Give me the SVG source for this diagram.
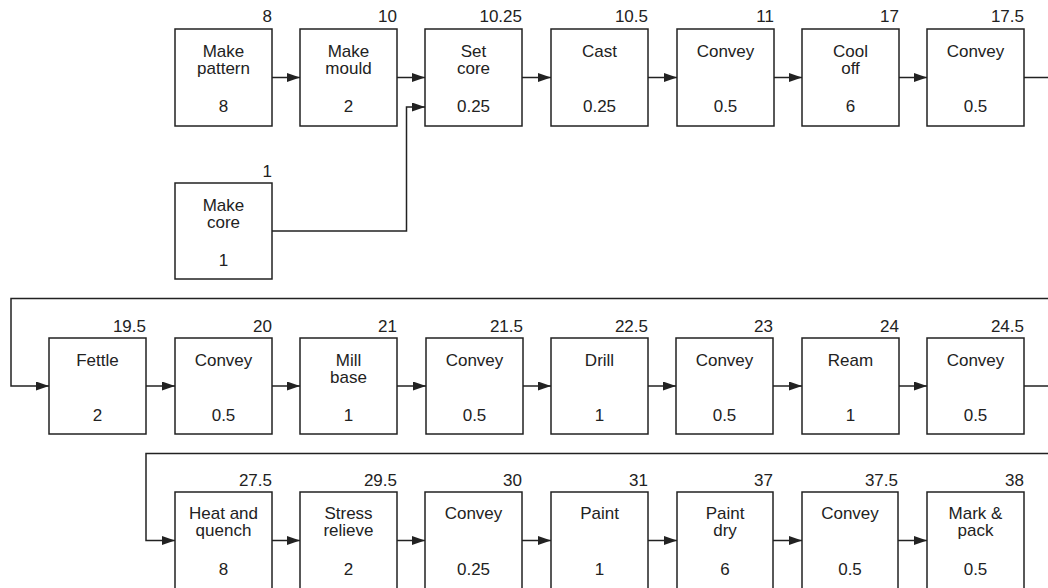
<svg xmlns="http://www.w3.org/2000/svg" width="1048" height="588" viewBox="0 0 1048 588">
<defs>
<marker id="ah" markerUnits="userSpaceOnUse" markerWidth="14" markerHeight="10" refX="13" refY="4.5" orient="auto">
<path d="M0,0 L13,4.5 L0,9 z" fill="#222"/>
</marker>
<style>
.b{fill:#fff;stroke:#222;stroke-width:1.5}
.l{font-family:"Liberation Sans",Arial,sans-serif;font-size:17px;fill:#222;text-anchor:middle}
.n{font-family:"Liberation Sans",Arial,sans-serif;font-size:17px;fill:#222;text-anchor:end}
.c{fill:none;stroke:#222;stroke-width:1.5}
</style>
</defs>
<rect width="1048" height="588" fill="#fff"/>
<g id="connectors">
<path class="c" d="M272,77.5 H300" marker-end="url(#ah)"/>
<path class="c" d="M397,77.5 H425" marker-end="url(#ah)"/>
<path class="c" d="M272,231 H406.5 V107 H425" marker-end="url(#ah)"/>
<path class="c" d="M522,77.5 H551" marker-end="url(#ah)"/>
<path class="c" d="M648,77.5 H677" marker-end="url(#ah)"/>
<path class="c" d="M774,77.5 H802" marker-end="url(#ah)"/>
<path class="c" d="M899,77.5 H927" marker-end="url(#ah)"/>
<path class="c" d="M1024,77.5 H1051 V298.5 H11 V386 H49" marker-end="url(#ah)"/>
<path class="c" d="M146,386 H175" marker-end="url(#ah)"/>
<path class="c" d="M272,386 H300" marker-end="url(#ah)"/>
<path class="c" d="M397,386 H426" marker-end="url(#ah)"/>
<path class="c" d="M523,386 H551" marker-end="url(#ah)"/>
<path class="c" d="M648,386 H676" marker-end="url(#ah)"/>
<path class="c" d="M773,386 H802" marker-end="url(#ah)"/>
<path class="c" d="M899,386 H927" marker-end="url(#ah)"/>
<path class="c" d="M1024,386 H1051 V453.5 H146 V540.5 H175" marker-end="url(#ah)"/>
<path class="c" d="M272,540.5 H300" marker-end="url(#ah)"/>
<path class="c" d="M397,540.5 H425" marker-end="url(#ah)"/>
<path class="c" d="M522,540.5 H551" marker-end="url(#ah)"/>
<path class="c" d="M648,540.5 H677" marker-end="url(#ah)"/>
<path class="c" d="M773,540.5 H802" marker-end="url(#ah)"/>
<path class="c" d="M898,540.5 H927" marker-end="url(#ah)"/>
</g>
<g id="make-pattern"><rect class="b" x="175" y="29" width="97" height="97"/><text class="n" x="272" y="22">8</text><text class="l" x="223.5" y="57">Make</text><text class="l" x="223.5" y="74">pattern</text><text class="l" x="223.5" y="112">8</text></g>
<g id="make-mould"><rect class="b" x="300" y="29" width="97" height="97"/><text class="n" x="397" y="22">10</text><text class="l" x="348.5" y="57">Make</text><text class="l" x="348.5" y="74">mould</text><text class="l" x="348.5" y="112">2</text></g>
<g id="set-core"><rect class="b" x="425" y="29" width="97" height="97"/><text class="n" x="522" y="22">10.25</text><text class="l" x="473.5" y="57">Set</text><text class="l" x="473.5" y="74">core</text><text class="l" x="473.5" y="112">0.25</text></g>
<g id="cast"><rect class="b" x="551" y="29" width="97" height="97"/><text class="n" x="648" y="22">10.5</text><text class="l" x="599.5" y="57">Cast</text><text class="l" x="599.5" y="112">0.25</text></g>
<g id="convey-1"><rect class="b" x="677" y="29" width="97" height="97"/><text class="n" x="774" y="22">11</text><text class="l" x="725.5" y="57">Convey</text><text class="l" x="725.5" y="112">0.5</text></g>
<g id="cool-off"><rect class="b" x="802" y="29" width="97" height="97"/><text class="n" x="899" y="22">17</text><text class="l" x="850.5" y="57">Cool</text><text class="l" x="850.5" y="74">off</text><text class="l" x="850.5" y="112">6</text></g>
<g id="convey-2"><rect class="b" x="927" y="29" width="97" height="97"/><text class="n" x="1024" y="22">17.5</text><text class="l" x="975.5" y="57">Convey</text><text class="l" x="975.5" y="112">0.5</text></g>
<g id="make-core"><rect class="b" x="175" y="183" width="97" height="96"/><text class="n" x="272" y="177">1</text><text class="l" x="223.5" y="211">Make</text><text class="l" x="223.5" y="228">core</text><text class="l" x="223.5" y="266">1</text></g>
<g id="fettle"><rect class="b" x="49" y="338" width="97" height="96"/><text class="n" x="146" y="332">19.5</text><text class="l" x="97.5" y="366">Fettle</text><text class="l" x="97.5" y="421">2</text></g>
<g id="convey-3"><rect class="b" x="175" y="338" width="97" height="96"/><text class="n" x="272" y="332">20</text><text class="l" x="223.5" y="366">Convey</text><text class="l" x="223.5" y="421">0.5</text></g>
<g id="mill-base"><rect class="b" x="300" y="338" width="97" height="96"/><text class="n" x="397" y="332">21</text><text class="l" x="348.5" y="366">Mill</text><text class="l" x="348.5" y="383">base</text><text class="l" x="348.5" y="421">1</text></g>
<g id="convey-4"><rect class="b" x="426" y="338" width="97" height="96"/><text class="n" x="523" y="332">21.5</text><text class="l" x="474.5" y="366">Convey</text><text class="l" x="474.5" y="421">0.5</text></g>
<g id="drill"><rect class="b" x="551" y="338" width="97" height="96"/><text class="n" x="648" y="332">22.5</text><text class="l" x="599.5" y="366">Drill</text><text class="l" x="599.5" y="421">1</text></g>
<g id="convey-5"><rect class="b" x="676" y="338" width="97" height="96"/><text class="n" x="773" y="332">23</text><text class="l" x="724.5" y="366">Convey</text><text class="l" x="724.5" y="421">0.5</text></g>
<g id="ream"><rect class="b" x="802" y="338" width="97" height="96"/><text class="n" x="899" y="332">24</text><text class="l" x="850.5" y="366">Ream</text><text class="l" x="850.5" y="421">1</text></g>
<g id="convey-6"><rect class="b" x="927" y="338" width="97" height="96"/><text class="n" x="1024" y="332">24.5</text><text class="l" x="975.5" y="366">Convey</text><text class="l" x="975.5" y="421">0.5</text></g>
<g id="heat-quench"><rect class="b" x="175" y="492" width="97" height="97"/><text class="n" x="272" y="486">27.5</text><text class="l" x="223.5" y="519">Heat and</text><text class="l" x="223.5" y="536">quench</text><text class="l" x="223.5" y="575">8</text></g>
<g id="stress-relieve"><rect class="b" x="300" y="492" width="97" height="97"/><text class="n" x="397" y="486">29.5</text><text class="l" x="348.5" y="519">Stress</text><text class="l" x="348.5" y="536">relieve</text><text class="l" x="348.5" y="575">2</text></g>
<g id="convey-7"><rect class="b" x="425" y="492" width="97" height="97"/><text class="n" x="522" y="486">30</text><text class="l" x="473.5" y="519">Convey</text><text class="l" x="473.5" y="575">0.25</text></g>
<g id="paint"><rect class="b" x="551" y="492" width="97" height="97"/><text class="n" x="648" y="486">31</text><text class="l" x="599.5" y="519">Paint</text><text class="l" x="599.5" y="575">1</text></g>
<g id="paint-dry"><rect class="b" x="677" y="492" width="96" height="97"/><text class="n" x="773" y="486">37</text><text class="l" x="725" y="519">Paint</text><text class="l" x="725" y="536">dry</text><text class="l" x="725" y="575">6</text></g>
<g id="convey-8"><rect class="b" x="802" y="492" width="96" height="97"/><text class="n" x="898" y="486">37.5</text><text class="l" x="850" y="519">Convey</text><text class="l" x="850" y="575">0.5</text></g>
<g id="mark-pack"><rect class="b" x="927" y="492" width="97" height="97"/><text class="n" x="1024" y="486">38</text><text class="l" x="975.5" y="519">Mark &amp;</text><text class="l" x="975.5" y="536">pack</text><text class="l" x="975.5" y="575">0.5</text></g>
</svg>
